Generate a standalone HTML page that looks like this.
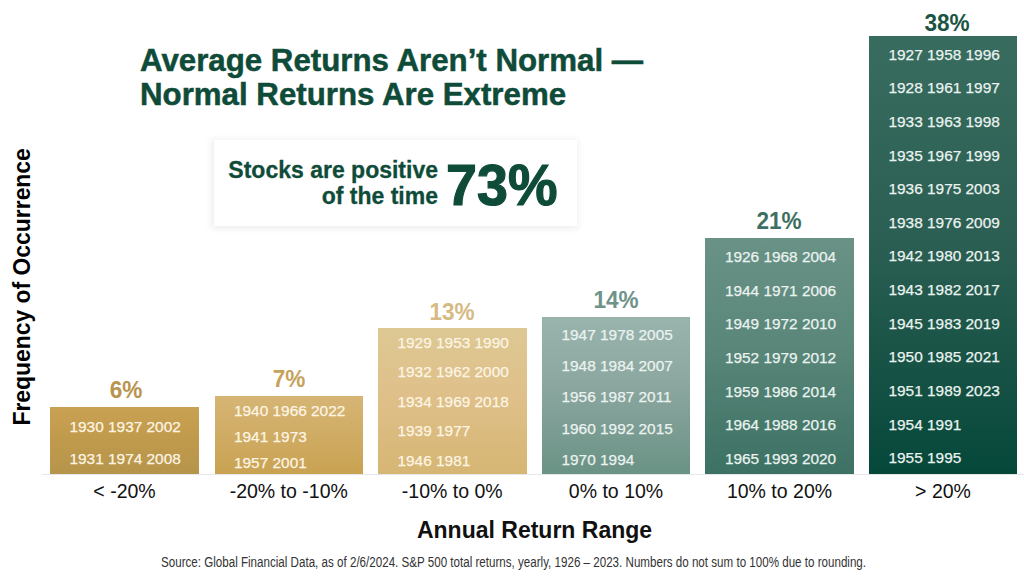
<!DOCTYPE html>
<html><head><meta charset="utf-8"><style>
html,body{margin:0;padding:0;}
body{width:1024px;height:580px;position:relative;overflow:hidden;background:#fff;font-family:"Liberation Sans", sans-serif;}
.t{position:absolute;white-space:pre;line-height:1;}
</style></head><body>
<div class="t" style="left:140.00px;top:44.85px;font-size:31.25px;font-weight:bold;color:#0f4b39;-webkit-text-stroke:0.5px #0f4b39;">Average Returns Aren’t Normal —</div>
<div class="t" style="left:140.00px;top:78.55px;font-size:31.25px;font-weight:bold;color:#0f4b39;-webkit-text-stroke:0.5px #0f4b39;">Normal Returns Are Extreme</div>
<div style="position:absolute;left:213.5px;top:140px;width:363.5px;height:86px;background:#fff;box-shadow:-1px 1px 7px 2px rgba(0,0,0,0.065);"></div>
<div class="t" style="right:586.00px;top:158.93px;font-size:23px;font-weight:bold;color:#0f4b39;-webkit-text-stroke:0.3px #0f4b39;">Stocks are positive</div>
<div class="t" style="right:586.00px;top:185.33px;font-size:23px;font-weight:bold;color:#0f4b39;-webkit-text-stroke:0.3px #0f4b39;">of the time</div>
<div class="t" style="left:445.50px;top:155.80px;font-size:58px;font-weight:bold;color:#0f4b39;transform-origin:0 0;transform:scaleX(0.96);-webkit-text-stroke:1.2px #0f4b39;">73%</div>
<div class="t" style="left:0;top:0;font-size:23.4px;font-weight:bold;color:#000;transform-origin:0 0;transform:translate(10.69px, 425.6px) rotate(-90deg) scaleX(0.979);">Frequency of Occurrence</div>
<div style="position:absolute;left:42px;top:474px;width:982px;height:1px;background:#e4e6e9;"></div>
<div style="position:absolute;left:50px;top:407px;width:149px;height:67px;background:linear-gradient(180deg,#c9a153 0%,#c09a4c 50%,#b5954b 100%);"></div>
<div class="t" style="left:69.50px;top:418.96px;font-size:15.4px;font-weight:normal;color:#fdf5e4;-webkit-text-stroke:0.25px #fdf5e4;">1930 1937 2002</div>
<div class="t" style="left:69.50px;top:451.26px;font-size:15.4px;font-weight:normal;color:#fdf5e4;-webkit-text-stroke:0.25px #fdf5e4;">1931 1974 2008</div>
<div class="t" style="left:-174.50px;width:600px;text-align:center;top:377.98px;font-size:24px;font-weight:bold;color:#b8944e;transform:scaleX(0.94);">6%</div>
<div style="position:absolute;left:214.5px;top:396px;width:148.5px;height:78px;background:linear-gradient(180deg,#d6b575 0%,#c9a252 100%);"></div>
<div class="t" style="left:234.00px;top:402.96px;font-size:15.4px;font-weight:normal;color:#fdf5e4;-webkit-text-stroke:0.25px #fdf5e4;">1940 1966 2022</div>
<div class="t" style="left:234.00px;top:428.86px;font-size:15.4px;font-weight:normal;color:#fdf5e4;-webkit-text-stroke:0.25px #fdf5e4;">1941 1973</div>
<div class="t" style="left:234.00px;top:454.76px;font-size:15.4px;font-weight:normal;color:#fdf5e4;-webkit-text-stroke:0.25px #fdf5e4;">1957 2001</div>
<div class="t" style="left:-11.40px;width:600px;text-align:center;top:366.98px;font-size:24px;font-weight:bold;color:#c6a25c;transform:scaleX(0.94);">7%</div>
<div style="position:absolute;left:378px;top:328px;width:148.5px;height:146px;background:linear-gradient(180deg,#ddc893 0%,#dfc08a 45%,#d6b673 100%);"></div>
<div class="t" style="left:397.50px;top:334.66px;font-size:15.4px;font-weight:normal;color:#fdf5e4;-webkit-text-stroke:0.25px #fdf5e4;">1929 1953 1990</div>
<div class="t" style="left:397.50px;top:364.21px;font-size:15.4px;font-weight:normal;color:#fdf5e4;-webkit-text-stroke:0.25px #fdf5e4;">1932 1962 2000</div>
<div class="t" style="left:397.50px;top:393.76px;font-size:15.4px;font-weight:normal;color:#fdf5e4;-webkit-text-stroke:0.25px #fdf5e4;">1934 1969 2018</div>
<div class="t" style="left:397.50px;top:423.31px;font-size:15.4px;font-weight:normal;color:#fdf5e4;-webkit-text-stroke:0.25px #fdf5e4;">1939 1977</div>
<div class="t" style="left:397.50px;top:452.86px;font-size:15.4px;font-weight:normal;color:#fdf5e4;-webkit-text-stroke:0.25px #fdf5e4;">1946 1981</div>
<div class="t" style="left:152.40px;width:600px;text-align:center;top:299.58px;font-size:24px;font-weight:bold;color:#d6ba84;transform:scaleX(0.94);">13%</div>
<div style="position:absolute;left:542px;top:317.1px;width:148px;height:156.89999999999998px;background:linear-gradient(180deg,#99b4ad 0%,#8ca7a0 43%,#6a9285 100%);"></div>
<div class="t" style="left:561.50px;top:326.96px;font-size:15.4px;font-weight:normal;color:#ebf3f0;-webkit-text-stroke:0.25px #ebf3f0;">1947 1978 2005</div>
<div class="t" style="left:561.50px;top:358.21px;font-size:15.4px;font-weight:normal;color:#ebf3f0;-webkit-text-stroke:0.25px #ebf3f0;">1948 1984 2007</div>
<div class="t" style="left:561.50px;top:389.46px;font-size:15.4px;font-weight:normal;color:#ebf3f0;-webkit-text-stroke:0.25px #ebf3f0;">1956 1987 2011</div>
<div class="t" style="left:561.50px;top:420.71px;font-size:15.4px;font-weight:normal;color:#ebf3f0;-webkit-text-stroke:0.25px #ebf3f0;">1960 1992 2015</div>
<div class="t" style="left:561.50px;top:451.96px;font-size:15.4px;font-weight:normal;color:#ebf3f0;-webkit-text-stroke:0.25px #ebf3f0;">1970 1994</div>
<div class="t" style="left:315.90px;width:600px;text-align:center;top:288.18px;font-size:24px;font-weight:bold;color:#6f938a;transform:scaleX(0.94);">14%</div>
<div style="position:absolute;left:705.4px;top:238.2px;width:148.20000000000005px;height:235.8px;background:linear-gradient(180deg,#6a9287 0%,#5a877a 45%,#3c7163 100%);"></div>
<div class="t" style="left:724.90px;top:249.36px;font-size:15.4px;font-weight:normal;color:#ebf3f0;-webkit-text-stroke:0.25px #ebf3f0;">1926 1968 2004</div>
<div class="t" style="left:724.90px;top:282.90px;font-size:15.4px;font-weight:normal;color:#ebf3f0;-webkit-text-stroke:0.25px #ebf3f0;">1944 1971 2006</div>
<div class="t" style="left:724.90px;top:316.43px;font-size:15.4px;font-weight:normal;color:#ebf3f0;-webkit-text-stroke:0.25px #ebf3f0;">1949 1972 2010</div>
<div class="t" style="left:724.90px;top:349.96px;font-size:15.4px;font-weight:normal;color:#ebf3f0;-webkit-text-stroke:0.25px #ebf3f0;">1952 1979 2012</div>
<div class="t" style="left:724.90px;top:383.50px;font-size:15.4px;font-weight:normal;color:#ebf3f0;-webkit-text-stroke:0.25px #ebf3f0;">1959 1986 2014</div>
<div class="t" style="left:724.90px;top:417.03px;font-size:15.4px;font-weight:normal;color:#ebf3f0;-webkit-text-stroke:0.25px #ebf3f0;">1964 1988 2016</div>
<div class="t" style="left:724.90px;top:450.56px;font-size:15.4px;font-weight:normal;color:#ebf3f0;-webkit-text-stroke:0.25px #ebf3f0;">1965 1993 2020</div>
<div class="t" style="left:479.10px;width:600px;text-align:center;top:208.98px;font-size:24px;font-weight:bold;color:#3d7062;transform:scaleX(0.94);">21%</div>
<div style="position:absolute;left:869px;top:35.8px;width:148px;height:438.2px;background:linear-gradient(180deg,#376c5f 0%,#2c5f53 46%,#05483a 100%);"></div>
<div class="t" style="left:888.50px;top:46.66px;font-size:15.4px;font-weight:normal;color:#ebf3f0;-webkit-text-stroke:0.25px #ebf3f0;">1927 1958 1996</div>
<div class="t" style="left:888.50px;top:80.30px;font-size:15.4px;font-weight:normal;color:#ebf3f0;-webkit-text-stroke:0.25px #ebf3f0;">1928 1961 1997</div>
<div class="t" style="left:888.50px;top:113.93px;font-size:15.4px;font-weight:normal;color:#ebf3f0;-webkit-text-stroke:0.25px #ebf3f0;">1933 1963 1998</div>
<div class="t" style="left:888.50px;top:147.56px;font-size:15.4px;font-weight:normal;color:#ebf3f0;-webkit-text-stroke:0.25px #ebf3f0;">1935 1967 1999</div>
<div class="t" style="left:888.50px;top:181.20px;font-size:15.4px;font-weight:normal;color:#ebf3f0;-webkit-text-stroke:0.25px #ebf3f0;">1936 1975 2003</div>
<div class="t" style="left:888.50px;top:214.83px;font-size:15.4px;font-weight:normal;color:#ebf3f0;-webkit-text-stroke:0.25px #ebf3f0;">1938 1976 2009</div>
<div class="t" style="left:888.50px;top:248.46px;font-size:15.4px;font-weight:normal;color:#ebf3f0;-webkit-text-stroke:0.25px #ebf3f0;">1942 1980 2013</div>
<div class="t" style="left:888.50px;top:282.10px;font-size:15.4px;font-weight:normal;color:#ebf3f0;-webkit-text-stroke:0.25px #ebf3f0;">1943 1982 2017</div>
<div class="t" style="left:888.50px;top:315.73px;font-size:15.4px;font-weight:normal;color:#ebf3f0;-webkit-text-stroke:0.25px #ebf3f0;">1945 1983 2019</div>
<div class="t" style="left:888.50px;top:349.36px;font-size:15.4px;font-weight:normal;color:#ebf3f0;-webkit-text-stroke:0.25px #ebf3f0;">1950 1985 2021</div>
<div class="t" style="left:888.50px;top:383.00px;font-size:15.4px;font-weight:normal;color:#ebf3f0;-webkit-text-stroke:0.25px #ebf3f0;">1951 1989 2023</div>
<div class="t" style="left:888.50px;top:416.63px;font-size:15.4px;font-weight:normal;color:#ebf3f0;-webkit-text-stroke:0.25px #ebf3f0;">1954 1991</div>
<div class="t" style="left:888.50px;top:450.26px;font-size:15.4px;font-weight:normal;color:#ebf3f0;-webkit-text-stroke:0.25px #ebf3f0;">1955 1995</div>
<div class="t" style="left:647.30px;width:600px;text-align:center;top:11.48px;font-size:24px;font-weight:bold;color:#1c5444;transform:scaleX(0.94);">38%</div>
<div class="t" style="left:-175.50px;width:600px;text-align:center;top:481.89px;font-size:19.5px;font-weight:normal;color:#111;">&lt; -20%</div>
<div class="t" style="left:-11.25px;width:600px;text-align:center;top:481.89px;font-size:19.5px;font-weight:normal;color:#111;">-20% to -10%</div>
<div class="t" style="left:152.25px;width:600px;text-align:center;top:481.89px;font-size:19.5px;font-weight:normal;color:#111;">-10% to 0%</div>
<div class="t" style="left:316.00px;width:600px;text-align:center;top:481.89px;font-size:19.5px;font-weight:normal;color:#111;">0% to 10%</div>
<div class="t" style="left:479.50px;width:600px;text-align:center;top:481.89px;font-size:19.5px;font-weight:normal;color:#111;">10% to 20%</div>
<div class="t" style="left:643.00px;width:600px;text-align:center;top:481.89px;font-size:19.5px;font-weight:normal;color:#111;">&gt; 20%</div>
<div class="t" style="left:234.50px;width:600px;text-align:center;top:518.73px;font-size:23px;font-weight:bold;color:#111;">Annual Return Range</div>
<div class="t" style="left:161.20px;top:555.15px;font-size:14px;font-weight:normal;color:#333;transform-origin:0 0;transform:scaleX(0.8286);">Source: Global Financial Data, as of 2/6/2024. S&amp;P 500 total returns, yearly, 1926 – 2023. Numbers do not sum to 100% due to rounding.</div>
</body></html>
